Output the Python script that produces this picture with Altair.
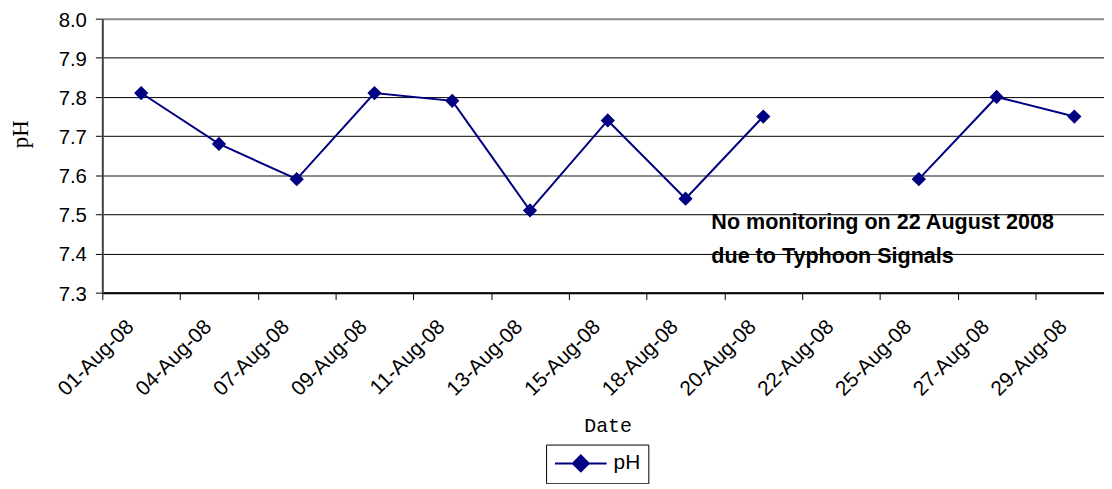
import altair as alt
import pandas as pd

# ---- data ----
dates = ["01-Aug-08", "04-Aug-08", "07-Aug-08", "09-Aug-08", "11-Aug-08",
         "13-Aug-08", "15-Aug-08", "18-Aug-08", "20-Aug-08", "22-Aug-08",
         "25-Aug-08", "27-Aug-08", "29-Aug-08"]
ph_values = [7.81, 7.68, 7.59, 7.81, 7.79, 7.51, 7.74, 7.54, 7.75, None,
             7.59, 7.80, 7.75]
series_names = ["pH"] * len(dates)
y_ticks = [7.3, 7.4, 7.5, 7.6, 7.7, 7.8, 7.9, 8.0]
note_lines = ["No monitoring on 22 August 2008", "due to Typhoon Signals"]
note_date = "18-Aug-08"
note_value = 7.5

df = pd.DataFrame({"Date": dates, "pH": ph_values, "series": series_names})

NAVY = "#000080"
BAND = 78.33
PLOT_W = 1009
PLOT_H = 276

x_scale = alt.Scale(domain=dates, range=[0, BAND * len(dates)],
                    paddingInner=0, paddingOuter=0)
y_scale = alt.Scale(domain=[7.3, 8.0], nice=False, zero=False)

x_axis = alt.Axis(
    title="Date", grid=False, tickBand="extent", ticks=True, tickSize=7,
    tickColor="black", tickWidth=1, domainColor="black", domainWidth=2,
    labelFont="Liberation Sans", labelFontSize=21, labelColor="black",
    labelAngle=315, labelAlign="right", labelBaseline="middle",
    labelPadding=24, labelOffset=-11, labelOverlap=False, labelBound=False,
    titleFont="Liberation Mono", titleFontSize=20, titleFontWeight="normal",
    titleColor="black", titleX=509, titleY=134, titleAlign="center",
    titleBaseline="middle",
)
y_axis = alt.Axis(
    title="pH", values=y_ticks, tickCount=20, format=".1f", grid=True,
    gridColor={"expr": "(abs(datum.value - 8) < 0.001 || abs(datum.value - 7.6) < 0.001) ? '#8a8a8a' : 'black'"},
    gridWidth={"expr": "(abs(datum.value - 8) < 0.001 || abs(datum.value - 7.6) < 0.001) ? 2 : 1"},
    tickSize=7, tickColor="black", domainColor="#404040", domainWidth=2,
    labelFont="Liberation Sans", labelFontSize=20.5, labelColor="black",
    labelPadding=9, labelOverlap=False, labelOffset=1.5, labelBound=False,
    titleFont="Liberation Serif", titleFontSize=23, titleFontWeight="normal",
    titleColor="black", titleAngle=270, titleX=-82, titleY=116,
    titleAlign="center", titleBaseline="middle",
)

legend_symbol = "M-2.6,0L2.6,0M0,-0.8L0.8,0L0,0.8L-0.8,0Z"
legend = alt.Legend(
    title=None, orient="none", legendX=447, legendY=429,
    strokeColor="black", fillColor="white", padding=8, cornerRadius=0,
    symbolType=legend_symbol, symbolSize=400, symbolStrokeWidth=2,
    symbolStrokeColor=NAVY, symbolFillColor=NAVY, symbolOffset=16,
    labelOffset=22, labelFont="Liberation Sans", labelFontSize=21,
    labelColor="black",
)

base = alt.Chart(df).encode(
    x=alt.X("Date:N", scale=x_scale, axis=x_axis, sort=None)
)

line = base.mark_line(color=NAVY, strokeWidth=2).encode(
    y=alt.Y("pH:Q", scale=y_scale, axis=y_axis)
)

points = base.mark_point(
    shape="diamond", filled=True, size=150, stroke=NAVY, strokeWidth=1.5,
    opacity=1
).encode(
    y=alt.Y("pH:Q"),
    color=alt.Color("series:N", scale=alt.Scale(range=[NAVY]), legend=legend),
)

note = base.transform_filter(alt.datum.Date == note_date).mark_text(
    text=note_lines, align="left", baseline="alphabetic", dx=26, dy=15,
    lineHeight=34, font="Liberation Sans", fontSize=21.7, fontWeight="bold",
    color="black",
).encode(y=alt.datum(note_value))

chart = alt.layer(line, points, note).properties(
    width=PLOT_W, height=PLOT_H,
    autosize=alt.AutoSizeParams(type="none"),
    padding={"left": 95, "top": 9, "right": 0, "bottom": 191},
    background="white",
).configure_view(stroke=None)

chart.save("out.html", embed_options={"renderer": "svg", "actions": False})
